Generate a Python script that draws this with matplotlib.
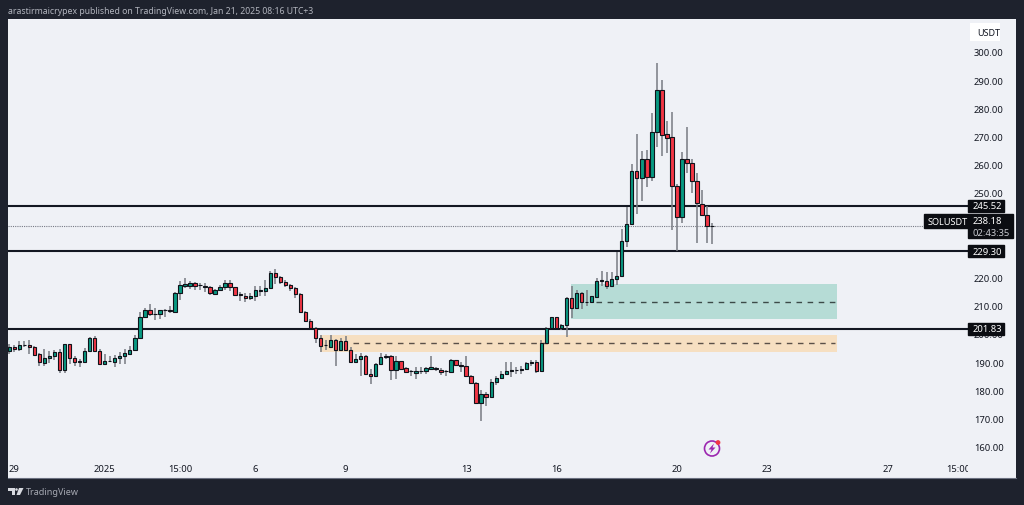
import matplotlib
matplotlib.use("Agg")
import matplotlib.pyplot as plt
from matplotlib.patches import Rectangle, Circle, Polygon

opens = [193.85, 195.5, 194.8, 196.1, 196.1, 195.3, 192.8, 189.8, 191.4, 192.3,
         193.5, 187.35, 196.3, 191.5, 190.4, 190.2, 193.85, 198.6, 193.85, 189.4,
         190.3, 190.2, 191.4, 192.1, 193.0, 194.2, 198.6, 205.9, 208.6, 206.9,
         206.9, 208.4, 208.4, 207.9, 214.4, 217.1, 217.1, 218, 217.5, 216.9,
         216.55, 214.2, 215.6, 216.8, 218, 216.55, 214.0, 213.6, 212.8, 213.6,
         215.4, 215.4, 216.3, 221.6, 220.1, 218.3, 217.4, 216.2, 214.2,
         207.8, 204.6, 202.1, 198.7, 196.2, 195.5, 197.75, 194.2, 197.4, 194.45,
         190.1, 191.1, 192.3, 185.9, 185, 189.2, 191.9, 192.1, 187.35, 190.3,
         187.8, 186.9, 186.3, 186.8, 187, 187.6, 188, 187.35, 186.8, 186.65,
         190.65, 189, 188.5, 185, 182.5, 175.4, 178.85, 177.8, 182.85, 184.3,
         185.7, 187, 187.1, 187.2, 187.6, 189.7, 189.95, 187, 196.7, 202,
         205.9, 202, 203.1, 212.8, 209.2, 214.4, 211.2, 211.2, 213.25, 218.9,
         218.7, 217.15, 219.5, 220.7, 232.85, 239, 257.9, 255.45, 261.9, 255.8,
         271.6, 286.5, 270.8, 269.75, 252.5, 241.6, 261.9, 260.6, 254.15, 246.2,
         242.3, 238.3]
closes = [195.5, 194.8, 196, 196.2, 195.3, 192.7, 190, 191.4, 192.3, 193.5,
          187.35, 196.3, 191.6, 190, 190.2, 193.85, 198.6, 193.85, 189.4, 190.4,
          190.4, 191.4, 192.1, 193.15, 194.2, 198.6, 205.9, 208.5, 206.9, 207.1,
          208.4, 208.5, 208.1, 214.4, 217.4, 217.6, 218.1, 217.1, 217.3, 216.7,
          214.4, 215.6, 216.55, 218, 216.55, 213.8, 213.9, 212.8, 213.4, 215.5,
          215.6, 216.3, 221.6, 220.1, 218.3, 217.5, 216.2, 214.2, 207.8,
          204.7, 202.1, 198.7, 195.9, 196, 197.75, 194.45, 197.4, 194.45, 190.1,
          191.1, 192.3, 185.9, 185, 189.35, 191.85, 192.05, 187.35, 190.3, 187.6,
          186.4, 186.8, 186.9, 187, 187.8, 188.2, 187.5, 186.65, 187, 190.65,
          189, 188.7, 185, 182.5, 175.4, 178.85, 177.8, 182.85, 184.3, 185.7,
          187, 187.2, 187.35, 187.6, 189.7, 189.95, 187, 196.7, 202.1, 205.9,
          202, 203.1, 212.8, 209.2, 214.4, 211.2, 211.5, 213.35, 218.9, 219,
          217.15, 219.6, 220.45, 232.85, 239, 257.9, 255.45, 261.9, 255.8, 271.6,
          286.5, 270.7, 269.6, 252.5, 241.6, 261.9, 260.75, 254.15, 246.45, 242.3,
          238.2, 238.18]
highs = [196.45, 196.1, 197.4, 197.4, 197.9, 195.6, 193.3, 194.6, 193.9, 194.3,
         194.7, 196.6, 196.6, 192.1, 191.1, 194.9, 198.8, 199.4, 194.7, 192.9,
         192.1, 192.5, 193.5, 194.7, 195.6, 199.8, 207.7, 209.1, 210.6, 209.1,
         208.6, 208.75, 209.8, 214.8, 218.6, 219.9, 218.6, 218.3, 218.1, 218.1,
         217.1, 216, 217.4, 219.15, 219.15, 216.8, 215, 214.5, 214.5, 217.1,
         217.1, 219, 222.5, 223, 220.7, 219.15, 217.85, 216.55, 214.5,
         208, 205.3, 202.4, 199.6, 198, 199.65, 198.2, 198.5, 199.2, 195.3,
         192.9, 193.25, 192.55, 187.6, 189.7, 193.25, 193, 192.55, 192.05, 190.55,
         188.4, 187.35, 188.4, 188.2, 188.2, 192.05, 188.4, 188, 187.2, 191.1,
         190.9, 189.95, 192.05, 185.45, 182.85, 180.25, 179.3, 184, 185.2, 187,
         190.2, 190.2, 188.2, 188.8, 189.95, 190.9, 190.9, 198, 202.4, 206.1,
         206.1, 203.5, 213, 217.1, 215.6, 214.8, 215.6, 213.6, 219.7, 222.2,
         222.1, 221.9, 229, 237.2, 244.9, 260.3, 270.9, 265, 265.25, 278.25,
         296.1, 290.1, 275.65, 278.6, 253.2, 264.4, 273.5, 261.9, 257, 251.2,
         245.5, 239.35]
lows = [192.9, 193.7, 194.1, 195.2, 192.9, 192.6, 188.8, 188.8, 189.7, 190.9,
        186.05, 186.05, 189.4, 188.8, 188.2, 190.2, 193.5, 193.5, 189.4, 189.1,
        189.9, 188.1, 189.4, 189.4, 193, 194.2, 198.6, 205.9, 206.5, 205,
        205.3, 205.9, 207.45, 207.9, 212.2, 216.2, 216, 215.7, 215.7, 214.8,
        213.8, 213.8, 215.4, 215.7, 215.4, 213.35, 211.8, 211.5, 212.2, 211.6,
        213.6, 213.6, 216, 217.7, 217.7, 216.55, 215.4, 212.65, 207.4,
        204.2, 201.7, 196.8, 193.5, 194.4, 195.15, 188.5, 194, 194.1, 190,
        190, 185.2, 185.8, 182.3, 185, 189, 191.1, 183.6, 184, 187.35,
        186.2, 185.2, 184, 185.8, 185.8, 187.6, 186.8, 185.5, 185.2, 186.65,
        188.8, 186.65, 184.6, 182.25, 175.2, 169, 174.6, 177.55, 182, 184,
        185.45, 184.9, 185.8, 185.8, 187.35, 188.8, 186.2, 186.4, 196.45, 201.7,
        201.8, 201.5, 198.8, 205.55, 208.9, 208.9, 210, 211.2, 213, 216.9,
        216, 216.9, 217.5, 220.3, 231, 239, 242.5, 247.3, 252.25, 254.4,
        266.4, 263.2, 264.3, 236.9, 229.55, 239.25, 257, 250.1, 232.3, 242,
        232.4, 231.9]

price_ticks = [160, 170, 180, 190, 200, 210, 220, 230, 240, 250, 260, 270, 280, 290, 300]
time_ticks = [1, 19, 34, 49, 67, 91, 109, 133, 151, 175, 189]
time_labels = ["29", "2025", "15:00", "6", "9", "13", "16", "20", "23", "27", "15:00"]

levels = [245.52, 229.30, 201.83]
last_price = 238.18
countdown = "02:43:35"

DARK = "#1e222d"
PANEL = "#eff1f6"
GREEN = "#089981"
RED = "#f23645"

W, H = 1024, 506
fig = plt.figure(figsize=(W / 100, H / 100), dpi=100, facecolor=DARK)
plt.rcParams["font.family"] = ["Noto Sans", "DejaVu Sans"]

bg = fig.add_axes([8 / W, 1 - 479 / H, 1008 / W, 459 / H], facecolor=PANEL)
bg.set_xticks([])
bg.set_yticks([])
for s in bg.spines.values():
    s.set_visible(False)
bg.spines["bottom"].set_visible(True)
bg.spines["bottom"].set_color("#6b7080")

ax = fig.add_axes([8 / W, 1 - 459 / H, 960 / W, 439 / H], facecolor="none")
ax.set_xlim(-0.26, 190.98)
ax.set_ylim(156.0, 311.7)
for s in ax.spines.values():
    s.set_visible(False)

# zones
ax.axhspan(205.3, 217.7, xmin=(111.9 + 0.26) / 191.24, xmax=(164.9 + 0.26) / 191.24,
           color="#b6dcd6", lw=0, zorder=1)
ax.axhspan(193.7, 199.6, xmin=(61.9 + 0.26) / 191.24, xmax=(164.9 + 0.26) / 191.24,
           color="#f6dfc1", lw=0, zorder=1)
ax.hlines(211.3, 116.8, 164.5, color="#3c4a48", lw=1, linestyles=(0, (4, 4)), zorder=1.5)
ax.hlines(196.8, 68.5, 164.5, color="#5a5048", lw=1, linestyles=(0, (4, 4)), zorder=1.5)

# levels
ax.hlines(levels, -0.26, 190.98, color="#131722", lw=1.5, zorder=1.6)
ax.hlines(last_price, -0.26, 190.98, color="#787b86", lw=0.8, linestyles=(0, (1, 1)), zorder=1.6)

# candles
xs = list(range(len(opens)))
ax.vlines(xs, lows, highs, color="#787b82", lw=1.1, zorder=2)
for i in xs:
    c = GREEN if closes[i] >= opens[i] else RED
    b = min(opens[i], closes[i])
    ax.bar(i, max(abs(closes[i] - opens[i]), 0.1), bottom=b, width=0.68, color=c,
           edgecolor="#10131a", linewidth=0.8, zorder=3)

# axes text
ax.yaxis.tick_right()
ax.set_yticks(price_ticks)
ax.set_yticklabels(["%.2f" % p for p in price_ticks])
ax.tick_params(axis="y", length=0, pad=4.3, labelsize=6.8, labelcolor="#131722")
ax.set_xticks(time_ticks)
ax.set_xticklabels(time_labels)
ax.tick_params(axis="x", length=0, pad=4, labelsize=6.8, labelcolor="#131722")
ax.get_xticklabels()[1].set_fontweight("bold")

trans = ax.get_yaxis_transform()


def price_box(price, text, right=1004):
    x1 = (right - 8) / 960
    ax.add_patch(Rectangle((1.0, price - 2.1), x1 - 1.0, 4.2, transform=trans,
                           color="#0b0d12", clip_on=False, zorder=10))
    ax.text(1 + 5 / 960, price, text, transform=trans, color="white", fontsize=6.8,
            va="center", ha="left", zorder=11, clip_on=False)


price_box(245.52, "245.52")
price_box(229.30, "229.30")
price_box(201.83, "201.83")

# last price box with countdown
ax.add_patch(Rectangle((1.0, 233.9), 45 / 960, 8.5, transform=trans, color="#0b0d12",
                       clip_on=False, zorder=10))
ax.text(1 + 5 / 960, last_price + 1.9, "%.2f" % last_price, transform=trans, color="white",
        fontsize=6.8, va="center", ha="left", zorder=11)
ax.text(1 + 5 / 960, last_price - 2.2, countdown, transform=trans, color="#c8cad0",
        fontsize=6.8, va="center", ha="left", zorder=11)
ax.add_patch(Rectangle((1 - 44 / 960, 237.6), 44 / 960, 4.8, transform=trans, color="#0b0d12",
                       clip_on=False, zorder=10))
ax.text(1 - 40 / 960, 240.0, "SOLUSDT", transform=trans, color="white", fontsize=6.6,
        va="center", ha="left", zorder=11)

# pixel overlay for header, footer and icons
ov = fig.add_axes([0, 0, 1, 1], facecolor="none")
ov.set_xlim(0, W)
ov.set_ylim(H, 0)
ov.axis("off")
ov.add_patch(Rectangle((968, 460), 48, 18, color=PANEL, lw=0))
ov.add_patch(Rectangle((970, 24), 30, 18, color="white", lw=0))
ov.text(977, 33, "USDT", fontsize=6.5, color="#131722", va="center")
ov.text(8, 11, "arastirmaicrypex published on TradingView.com, Jan 21, 2025 08:16 UTC+3",
        fontsize=6.25, color="#b2b5be", va="center")
ov.text(26, 493, "TradingView", fontsize=6.5, color="#a6a9b2", va="center")
ov.add_patch(Polygon([(8, 489), (15, 489), (15, 496), (12, 496), (12, 492), (8, 492)],
                     color="#d8dae0", lw=0))
ov.add_patch(Circle((16.5, 490.5), 1.3, color="#d8dae0", lw=0))
ov.add_patch(Polygon([(19, 489), (23.5, 489), (20, 496), (16.5, 496)], color="#d8dae0", lw=0))
ov.add_patch(Circle((712, 449.5), 7.5, fc="none", ec="#9c27b0", lw=1.2))
ov.add_patch(Polygon([(714, 444.5), (708.5, 450.5), (711.5, 450.5), (710, 454.5),
                      (715.5, 448.5), (712.5, 448.5)], color="#9c27b0", lw=0))
ov.add_patch(Circle((718, 443.5), 2.4, color="#f23645", lw=0))

fig.savefig("out.png", dpi=100, facecolor=DARK)
